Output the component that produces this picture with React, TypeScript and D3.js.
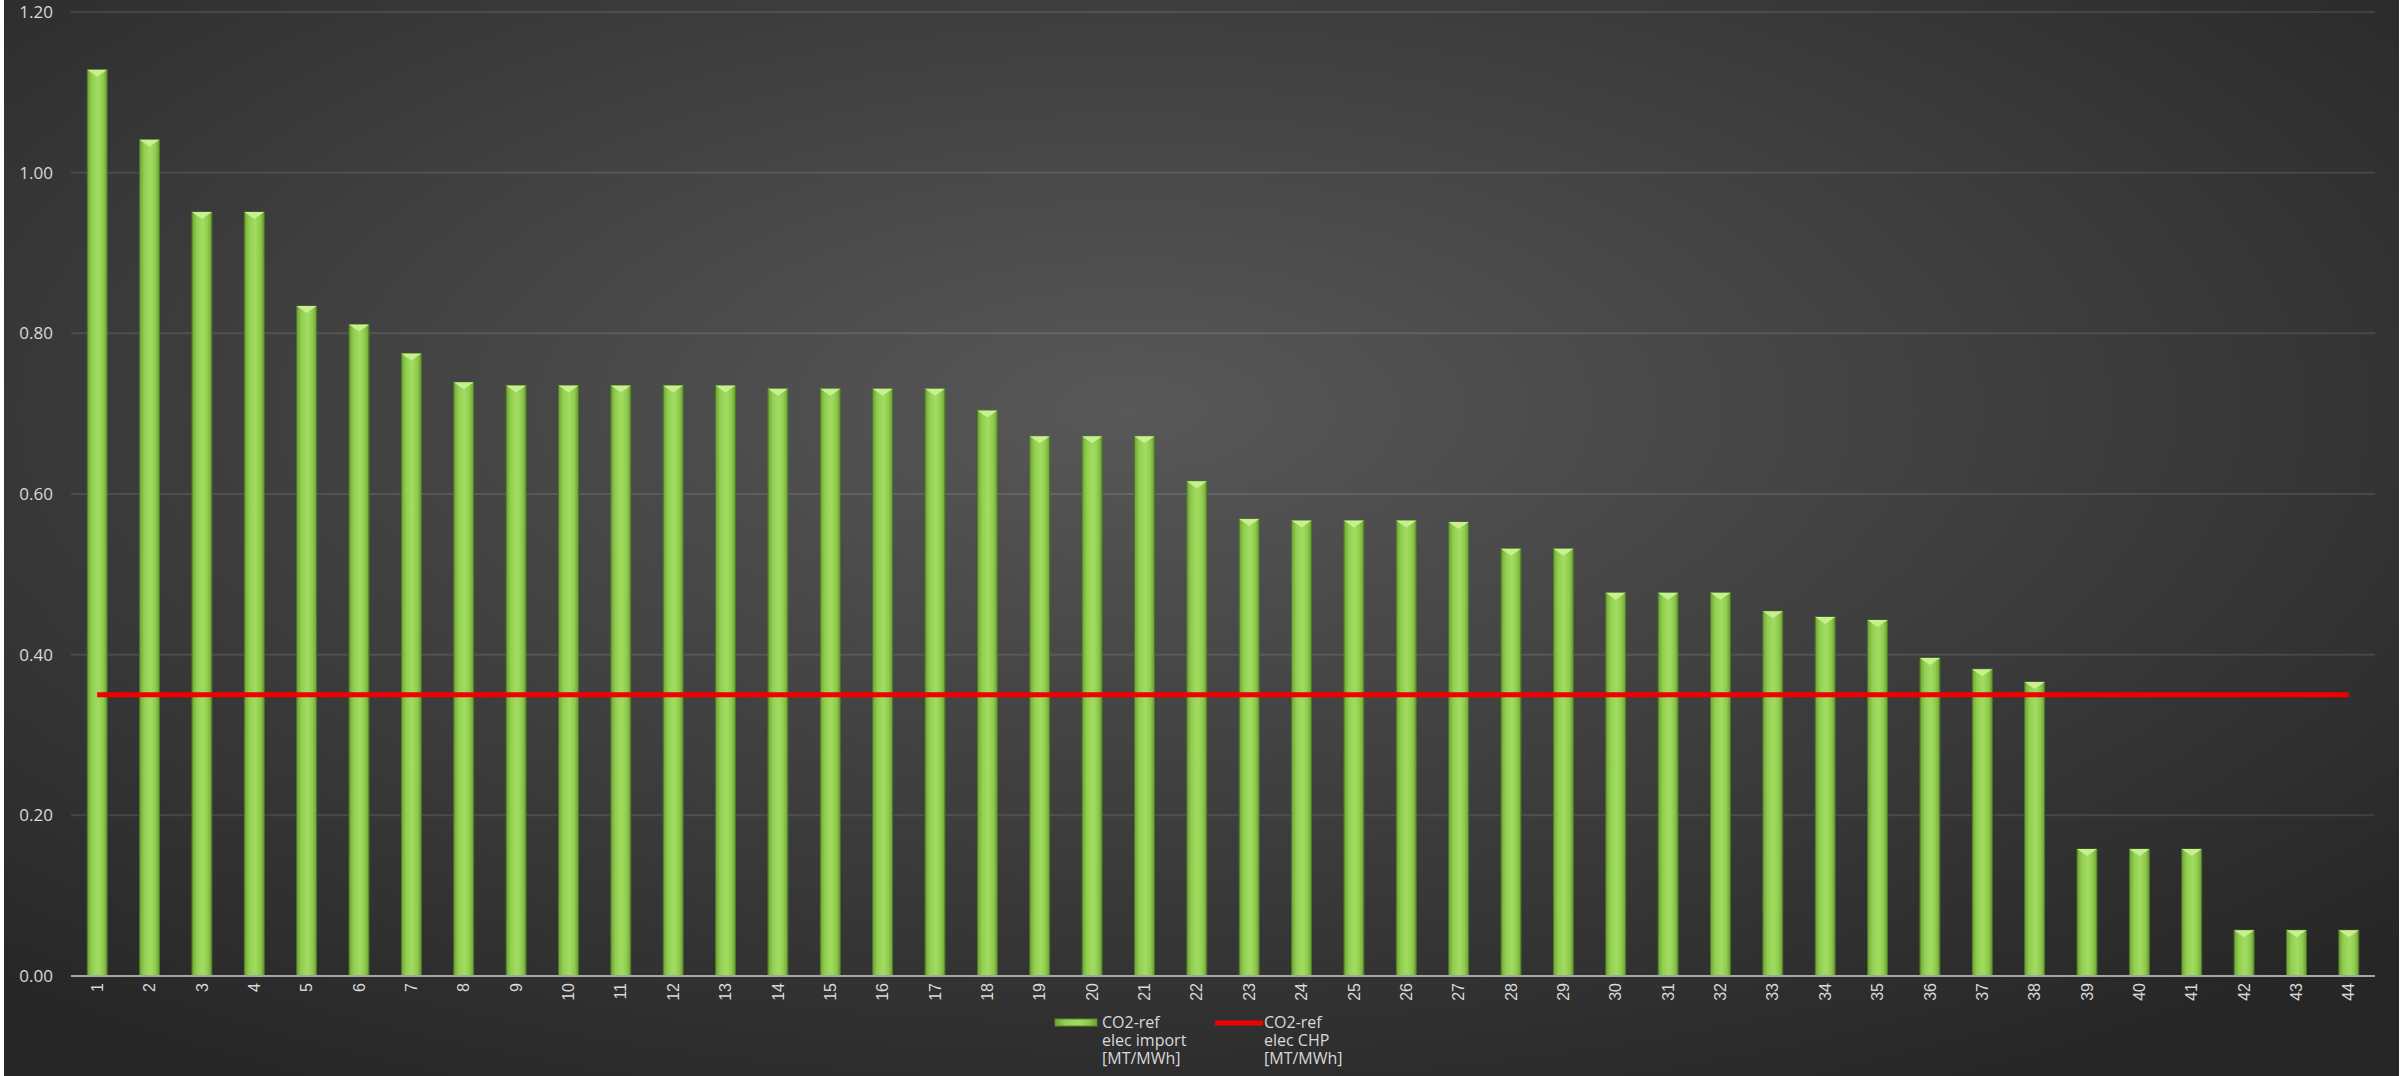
import React, { useEffect } from "react";
import * as d3 from "d3";

const categories = [
  "1", "2", "3", "4", "5", "6", "7", "8", "9", "10", "11",
  "12", "13", "14", "15", "16", "17", "18", "19", "20", "21", "22",
  "23", "24", "25", "26", "27", "28", "29", "30", "31", "32", "33",
  "34", "35", "36", "37", "38", "39", "40", "41", "42", "43", "44",
];

// CO2-ref elec import [MT/MWh]
const importValues = [
  1.128, 1.041, 0.951, 0.951, 0.834, 0.811, 0.775, 0.739, 0.735, 0.735, 0.735,
  0.735, 0.735, 0.731, 0.731, 0.731, 0.731, 0.704, 0.672, 0.672, 0.672, 0.616,
  0.569, 0.567, 0.567, 0.567, 0.565, 0.532, 0.532, 0.477, 0.477, 0.477, 0.454,
  0.447, 0.443, 0.396, 0.382, 0.366, 0.158, 0.158, 0.158, 0.057, 0.057, 0.057,
];

// CO2-ref elec CHP [MT/MWh]
const chpValue = 0.35;

const yTicks = [0, 0.2, 0.4, 0.6, 0.8, 1.0, 1.2];

const legendImport = ["CO2-ref", "elec import", "[MT/MWh]"];
const legendChp = ["CO2-ref", "elec CHP", "[MT/MWh]"];

const W = 2407;
const H = 1076;

const App = () => {
  useEffect(() => {
    d3.select("#chart svg").remove();

    const svg = d3
      .select("#chart")
      .append("svg")
      .attr("width", W)
      .attr("height", H)
      .style("display", "block");

    const defs = svg.append("defs");

    // background radial gradient
    const bg = defs
      .append("radialGradient")
      .attr("id", "bg")
      .attr("cx", "47%")
      .attr("cy", "38%")
      .attr("r", "72%");
    bg.append("stop").attr("offset", "0%").attr("stop-color", "#585858");
    bg.append("stop").attr("offset", "100%").attr("stop-color", "#262626");

    // bar gradient, darker edges and lighter middle
    const bar = defs
      .append("linearGradient")
      .attr("id", "bar")
      .attr("x1", "0%")
      .attr("x2", "100%");
    bar.append("stop").attr("offset", "0%").attr("stop-color", "#6fa536");
    bar.append("stop").attr("offset", "25%").attr("stop-color", "#93d152");
    bar.append("stop").attr("offset", "55%").attr("stop-color", "#a2dc62");
    bar.append("stop").attr("offset", "80%").attr("stop-color", "#8fcb4f");
    bar.append("stop").attr("offset", "100%").attr("stop-color", "#6a9e32");

    svg.append("rect").attr("width", W).attr("height", H).attr("fill", "#ffffff");
    svg
      .append("rect")
      .attr("x", 4)
      .attr("y", 0)
      .attr("width", 2395)
      .attr("height", H)
      .attr("fill", "url(#bg)");

    const x = d3
      .scaleBand()
      .domain(categories)
      .range([71, 2375])
      .paddingInner(0.62)
      .paddingOuter(0.31);

    const y = d3.scaleLinear().domain([0, 1.2]).range([976, 12]);

    // gridlines
    svg
      .append("g")
      .selectAll("line")
      .data(yTicks.slice(1))
      .enter()
      .append("line")
      .attr("x1", 71)
      .attr("x2", 2375)
      .attr("y1", (d) => y(d))
      .attr("y2", (d) => y(d))
      .attr("stroke", "#ffffff")
      .attr("stroke-opacity", 0.1)
      .attr("stroke-width", 2);

    // y labels
    svg
      .append("g")
      .selectAll("text")
      .data(yTicks)
      .enter()
      .append("text")
      .attr("x", 53)
      .attr("y", (d) => y(d))
      .attr("dy", "0.35em")
      .attr("text-anchor", "end")
      .attr("fill", "#d9d9d9")
      .style("font-family", "'Open Sans', sans-serif")
      .style("font-size", "17px")
      .text((d) => d3.format(".2f")(d));

    // bars
    const bars = svg
      .append("g")
      .selectAll("g")
      .data(importValues)
      .enter()
      .append("g");

    bars
      .append("rect")
      .attr("x", (d, i) => x(categories[i]))
      .attr("y", (d) => y(d))
      .attr("width", x.bandwidth())
      .attr("height", (d) => y(0) - y(d))
      .attr("fill", "url(#bar)")
      .attr("stroke", "#4d7a22")
      .attr("stroke-width", 1);

    bars
      .append("path")
      .attr("d", (d, i) => {
        const x0 = x(categories[i]);
        const x1 = x0 + x.bandwidth();
        const t = y(d);
        return `M${x0},${t}L${x1},${t}L${(x0 + x1) / 2},${t + 7}Z`;
      })
      .attr("fill", "#c8f090");

    // baseline
    svg
      .append("line")
      .attr("x1", 71)
      .attr("x2", 2375)
      .attr("y1", y(0))
      .attr("y2", y(0))
      .attr("stroke", "#a6a6a6")
      .attr("stroke-width", 2);

    // CHP line
    const line = d3
      .line()
      .x((d) => x(d) + x.bandwidth() / 2)
      .y(() => y(chpValue));

    svg
      .append("path")
      .datum([categories[0], categories[categories.length - 1]])
      .attr("d", line)
      .attr("fill", "none")
      .attr("stroke", "#f00000")
      .attr("stroke-width", 5);

    // x labels
    svg
      .append("g")
      .selectAll("text")
      .data(categories)
      .enter()
      .append("text")
      .attr(
        "transform",
        (d) => `translate(${x(d) + x.bandwidth() / 2},983) rotate(-90)`
      )
      .attr("dy", "0.35em")
      .attr("text-anchor", "end")
      .attr("fill", "#d9d9d9")
      .style("font-family", "'Liberation Sans Narrow', 'Liberation Sans', sans-serif")
      .style("font-size", "16px")
      .text((d) => d);

    // legend
    const legend = svg.append("g").style("font-family", "'Open Sans', sans-serif");

    legend
      .append("rect")
      .attr("x", 1055)
      .attr("y", 1019)
      .attr("width", 42)
      .attr("height", 7)
      .attr("fill", "url(#bar)")
      .attr("stroke", "#5b8a2a");

    legend
      .append("line")
      .attr("x1", 1215)
      .attr("x2", 1263)
      .attr("y1", 1023)
      .attr("y2", 1023)
      .attr("stroke", "#f00000")
      .attr("stroke-width", 5);

    const legendText = (lines: string[], lx: number) => {
      legend
        .append("g")
        .selectAll("text")
        .data(lines)
        .enter()
        .append("text")
        .attr("x", lx)
        .attr("y", (d, i) => 1028 + i * 18)
        .attr("fill", "#d9d9d9")
        .style("font-size", "16px")
        .text((d) => d);
    };
    legendText(legendImport, 1102);
    legendText(legendChp, 1264);
  }, []);

  return (
    <div
      id="chart"
      style={{ position: "absolute", left: 0, top: 0, width: W, height: H }}
    ></div>
  );
};

export default App;
